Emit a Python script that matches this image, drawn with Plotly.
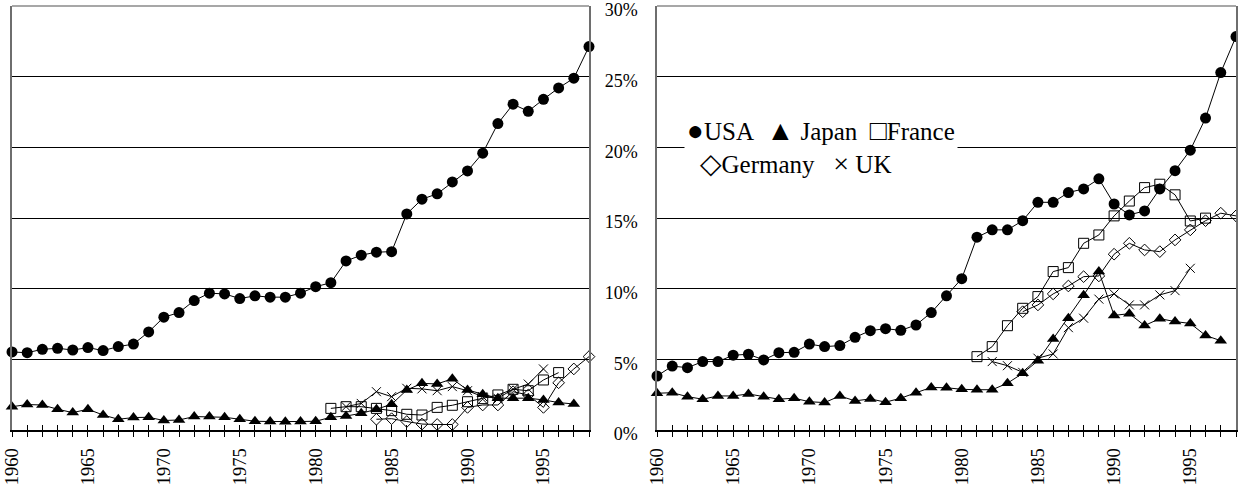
import plotly.graph_objects as go

# ---------------- data ----------------
usa_years = list(range(1960, 1999))
japan_years = list(range(1960, 1998))
france_years = list(range(1981, 1997))
germany_years = list(range(1984, 1999))
uk_years = list(range(1982, 1996))

left_usa = [5.52, 5.47, 5.71, 5.78, 5.66, 5.83, 5.62, 5.90, 6.08, 6.94,
            7.98, 8.31, 9.16, 9.68, 9.63, 9.30, 9.49, 9.40, 9.40, 9.68,
            10.14, 10.42, 11.96, 12.37, 12.58, 12.62, 15.29, 16.33, 16.71, 17.55,
            18.33, 19.59, 21.68, 23.05, 22.55, 23.40, 24.20, 24.89, 27.13]
left_japan = [1.65, 1.80, 1.77, 1.47, 1.23, 1.47, 1.06, 0.76, 0.88, 0.90,
              0.67, 0.71, 0.95, 0.95, 0.90, 0.76, 0.62, 0.60, 0.58, 0.60,
              0.62, 0.90, 0.99, 1.18, 1.47, 1.82, 2.83, 3.30, 3.26, 3.62,
              2.83, 2.53, 2.25, 2.25, 2.25, 2.13, 1.94, 1.84]
left_france = [1.53, 1.65, 1.65, 1.53, 1.37, 1.11, 1.06, 1.60, 1.75, 2.00,
               2.22, 2.48, 2.88, 2.78, 3.54, 4.06]
left_germany = [0.76, 0.80, 0.60, 0.42, 0.39, 0.39, 1.60, 1.77, 1.77, 2.71,
                2.48, 1.60, 3.34, 4.32, 5.19]
left_uk = [1.65, 1.88, 2.71, 2.36, 2.95, 2.91, 2.78, 3.07, 2.78, 2.36,
           2.25, 2.88, 3.25, 4.32]

right_usa = [3.82, 4.52, 4.41, 4.84, 4.84, 5.29, 5.36, 4.96, 5.47, 5.50,
             6.08, 5.90, 5.97, 6.56, 7.03, 7.17, 7.05, 7.43, 8.31, 9.49,
             10.71, 13.64, 14.16, 14.16, 14.81, 16.11, 16.11, 16.80, 17.06, 17.77,
             15.99, 15.22, 15.50, 17.06, 18.35, 19.80, 22.07, 25.29, 27.84]
right_japan = [2.60, 2.64, 2.36, 2.18, 2.41, 2.41, 2.55, 2.36, 2.18, 2.25,
               2.00, 1.94, 2.41, 2.06, 2.20, 1.97, 2.25, 2.64, 3.01, 2.99,
               2.88, 2.85, 2.85, 3.31, 4.01, 4.90, 6.44, 7.91, 9.53, 11.21,
               8.11, 8.23, 7.39, 7.88, 7.67, 7.54, 6.69, 6.32]
right_france = [5.19, 5.90, 7.38, 8.61, 9.44, 11.21, 11.49, 13.21, 13.80, 15.15,
                16.20, 17.15, 17.39, 16.64, 14.79, 14.99]
right_germany = [8.37, 8.85, 9.63, 10.19, 10.85, 10.90, 12.44, 13.21, 12.74, 12.62,
                 13.45, 14.16, 14.81, 15.34, 15.15]
right_uk = [4.84, 4.55, 4.08, 5.08, 5.38, 7.24, 7.91, 9.26, 9.63, 8.85,
            8.85, 9.56, 9.86, 11.44]

y_ticks = [0, 5, 10, 15, 20, 25, 30]
y_tick_labels = ["0%", "5%", "10%", "15%", "20%", "25%", "30%"]
year_ticks = [1960, 1965, 1970, 1975, 1980, 1985, 1990, 1995]

# ---------------- styles ----------------
FONT = "Liberation Serif"
styles = {
    "USA": dict(symbol="circle", size=11, color="black"),
    "Japan": dict(symbol="triangle-up", size=11, color="black"),
    "France": dict(symbol="square-open", size=10, color="black", line=dict(width=1, color="black")),
    "Germany": dict(symbol="diamond-open", size=9, color="black", line=dict(width=1, color="black")),
    "UK": dict(symbol="x-thin-open", size=9, color="black", line=dict(width=1, color="black")),
}

fig = go.Figure()

def add(name, xs, ys, xa, ya):
    fig.add_trace(go.Scatter(
        x=xs, y=ys, mode="lines+markers", name=name, showlegend=False,
        line=dict(color="black", width=1), marker=styles[name],
        xaxis=xa, yaxis=ya, cliponaxis=False))

# left panel
add("Germany", germany_years, left_germany, "x", "y")
add("UK", uk_years, left_uk, "x", "y")
add("France", france_years, left_france, "x", "y")
add("Japan", japan_years, left_japan, "x", "y")
add("USA", usa_years, left_usa, "x", "y")
# right panel
add("Germany", germany_years, right_germany, "x2", "y2")
add("UK", uk_years, right_uk, "x2", "y2")
add("France", france_years, right_france, "x2", "y2")
add("Japan", japan_years, right_japan, "x2", "y2")
add("USA", usa_years, right_usa, "x2", "y2")

W, H = 1238, 484
ydom = [(H - 430) / H, (H - 6) / H]
xdom_l = [12 / W, 589 / W]
xdom_r = [657 / W, 1236 / W]

xcommon = dict(range=[1960, 1998], autorange=False, tickmode="array", tickvals=year_ticks,
               ticktext=[str(v) for v in year_ticks], tickangle=-90,
               ticks="outside", ticklen=5, tickwidth=1, tickcolor="black",
               minor=dict(dtick=1, tick0=1960, ticks="outside", ticklen=5,
                          tickwidth=1, tickcolor="black", showgrid=False),
               showline=True, linecolor="black", linewidth=1.5,
               showgrid=False, zeroline=False, automargin=False,
               ticklabeloverflow="allow", ticklabelstandoff=4,
               tickfont=dict(family=FONT, size=18.5, color="black"))
ycommon = dict(range=[0, 30], autorange=False, tickmode="array", tickvals=y_ticks,
               ticktext=y_tick_labels,
               showgrid=True, gridcolor="black", gridwidth=1,
               showline=True, linecolor="#6e6e6e", linewidth=1.5, mirror=True,
               zeroline=False, ticks="", automargin=False,
               ticklabeloverflow="allow", ticklabelstandoff=14, ticklabelshift=4,
               tickfont=dict(family=FONT, size=18, color="black"))

# crossing ticks: overlay axes with inside ticks
inner = dict(range=[1960, 1998], autorange=False, tickmode="linear", tick0=1960, dtick=1,
             ticks="inside", ticklen=5, tickwidth=1, tickcolor="black",
             showticklabels=False, showgrid=False, zeroline=False, showline=False)

SYM = '<span style="font-size:28px">%s</span>'
legend_text = (SYM % "●" + "USA\u00a0\u00a0" + SYM % "▲" + "\u00a0Japan\u00a0\u00a0" + SYM % "□" + "France"
               + "<br>\u00a0\u00a0" + SYM % "◇" + "Germany\u00a0\u00a0\u00a0" + SYM % "×" + "\u00a0UK")

fig.update_layout(
    width=W, height=H, margin=dict(l=0, r=0, t=0, b=0, autoexpand=False),
    paper_bgcolor="white", plot_bgcolor="white",
    font=dict(family=FONT, size=17, color="black"),
    xaxis=dict(domain=xdom_l, anchor="y", **xcommon),
    yaxis=dict(domain=ydom, anchor="x", showticklabels=False, **ycommon),
    xaxis2=dict(domain=xdom_r, anchor="y2", **xcommon),
    yaxis2=dict(domain=ydom, anchor="x2", showticklabels=True, **ycommon),
    xaxis3=dict(overlaying="x", anchor="y", side="bottom", **inner),
    xaxis4=dict(overlaying="x2", anchor="y2", side="bottom", **inner),
    shapes=[
        dict(type="line", xref="x domain", yref="y domain", x0=0, x1=1, y0=1, y1=1,
             line=dict(color="#8a8a8a", width=1.5), layer="above"),
        dict(type="line", xref="x2 domain", yref="y2 domain", x0=0, x1=1, y0=1, y1=1,
             line=dict(color="#8a8a8a", width=1.5), layer="above"),
    ],
    annotations=[
        dict(xref="paper", yref="paper", x=684 / W, y=(H - 112) / H,
             xanchor="left", yanchor="top", align="left", showarrow=False,
             text=legend_text,
             font=dict(family=FONT, size=25, color="black"),
             bgcolor="white", borderpad=2),
    ],
)

# dummy traces to activate overlay axes
fig.add_trace(go.Scatter(x=[1960], y=[None], xaxis="x3", yaxis="y", showlegend=False, hoverinfo="skip"))
fig.add_trace(go.Scatter(x=[1960], y=[None], xaxis="x4", yaxis="y2", showlegend=False, hoverinfo="skip"))

fig.write_html("out.html", config={"displayModeBar": False},
               post_script="document.body.style.margin='0px';")
